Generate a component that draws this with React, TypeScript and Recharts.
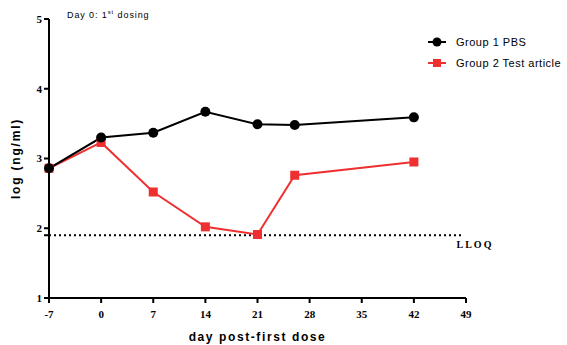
import React from "react";
import {
  LineChart,
  Line,
  XAxis,
  YAxis,
  ReferenceLine,
} from "recharts";

const days = [-7, 0, 7, 14, 21, 26, 42];
const group1Pbs = [2.86, 3.3, 3.37, 3.67, 3.49, 3.48, 3.59];
const group2TestArticle = [2.86, 3.23, 2.52, 2.02, 1.91, 2.76, 2.95];
const xTicks = [-7, 0, 7, 14, 21, 28, 35, 42, 49];
const yTicks = [1, 1.9, 2, 3, 4, 5];
const lloq = 1.9;

const RED = "#ee3030";

const data = days.map((day, i) => ({
  day,
  g1: group1Pbs[i],
  g2: group2TestArticle[i],
}));

const tickStyle = {
  fontFamily: "'Liberation Serif', serif",
  fontWeight: 700,
  fontSize: 11,
  fill: "#000",
};

function SquareDot(props: any) {
  const { cx, cy } = props;
  if (cx == null || cy == null) return null;
  return <rect x={cx - 4.5} y={cy - 4.5} width={9} height={9} fill={RED} />;
}

function CircleDot(props: any) {
  const { cx, cy } = props;
  if (cx == null || cy == null) return null;
  return <circle cx={cx} cy={cy} r={5} fill="#000" />;
}

function LegendBox() {
  const items = [
    { label: "Group 1 PBS", color: "#000", shape: "circle" },
    { label: "Group 2 Test article", color: RED, shape: "square" },
  ];
  return (
    <div style={{ position: "absolute", left: 428, top: 31, width: 138 }}>
      {items.map((it) => (
        <div
          key={it.label}
          style={{
            display: "flex",
            alignItems: "center",
            height: 21,
            whiteSpace: "nowrap",
            fontFamily: "'Liberation Sans', Arial, sans-serif",
            fontSize: 11,
            letterSpacing: 0.5,
            color: "#000",
          }}
        >
          <svg width={22} height={12} style={{ marginRight: 6 }}>
            <line x1={0} y1={6} x2={18} y2={6} stroke={it.color} strokeWidth={2} />
            {it.shape === "circle" ? (
              <circle cx={9} cy={6} r={4.5} fill={it.color} />
            ) : (
              <rect x={5} y={2} width={8} height={8} fill={it.color} />
            )}
          </svg>
          {it.label}
        </div>
      ))}
    </div>
  );
}

export default function App() {
  return (
    <div style={{ position: "absolute", left: 0, top: 0, width: 567, height: 345, background: "#fff" }}>
      <LineChart
        width={567}
        height={345}
        data={data}
        margin={{ top: 19, right: 101, bottom: 0, left: 0 }}
      >
        <XAxis
          dataKey="day"
          type="number"
          domain={[-7, 49]}
          ticks={xTicks}
          tick={{ ...tickStyle, dy: 5 }}
          tickLine={{ stroke: "#000", strokeWidth: 2 }}
          axisLine={{ stroke: "#000", strokeWidth: 2 }}
          tickSize={5}
          height={47}
          label={{
            value: "day post-first dose",
            position: "insideBottom",
            offset: 4,
            style: {
              fontFamily: "'Liberation Sans', Arial, sans-serif",
              fontWeight: 700,
              fontSize: 12,
              letterSpacing: 1.6,
              fill: "#000",
            },
          }}
        />
        <YAxis
          type="number"
          domain={[1, 5]}
          ticks={yTicks}
          interval={0}
          tick={tickStyle}
          tickFormatter={(v: number) => (v === lloq ? "" : String(v))}
          tickLine={{ stroke: "#000", strokeWidth: 2 }}
          axisLine={{ stroke: "#000", strokeWidth: 2 }}
          tickSize={5}
          width={49}
          label={{
            value: "log (ng/ml)",
            angle: -90,
            position: "insideLeft",
            offset: 16,
            style: {
              fontFamily: "'Liberation Sans', Arial, sans-serif",
              fontWeight: 700,
              fontSize: 12,
              letterSpacing: 1.8,
              fill: "#000",
              textAnchor: "middle",
            },
          }}
        />
        <ReferenceLine
          segment={[
            { x: -7, y: lloq },
            { x: 48.4, y: lloq },
          ]}
          stroke="#000"
          strokeWidth={2}
          strokeDasharray="2 3"
          label={{
            value: "LLOQ",
            position: "right",
            dx: -10,
            dy: 9,
            style: {
              fontFamily: "'Liberation Serif', serif",
              fontWeight: 700,
              fontSize: 10,
              letterSpacing: 2,
              fill: "#000",
            },
          }}
        />
        <Line
          dataKey="g2"
          name="Group 2 Test article"
          stroke={RED}
          strokeWidth={2}
          dot={<SquareDot />}
          activeDot={false}
          isAnimationActive={false}
        />
        <Line
          dataKey="g1"
          name="Group 1 PBS"
          stroke="#000"
          strokeWidth={2}
          dot={<CircleDot />}
          activeDot={false}
          isAnimationActive={false}
        />
      </LineChart>
      <LegendBox />
      <div
        style={{
          position: "absolute",
          left: 67,
          top: 9,
          fontFamily: "'Liberation Sans', Arial, sans-serif",
          fontSize: 9,
          letterSpacing: 0.9,
          color: "#000",
        }}
      >
        Day 0: 1<sup style={{ fontSize: 6 }}>st</sup> dosing
      </div>
    </div>
  );
}
